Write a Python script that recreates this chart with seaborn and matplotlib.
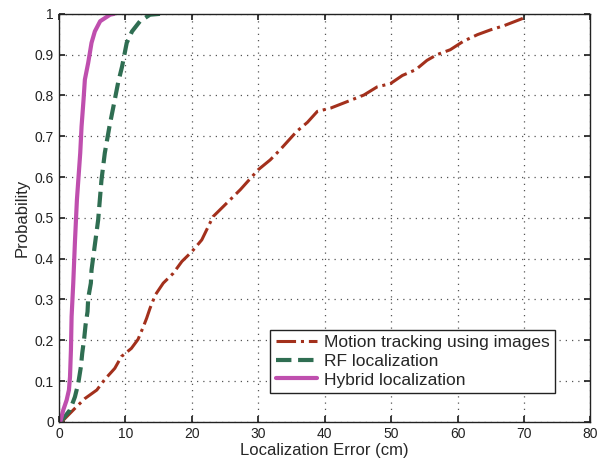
import pandas as pd
import seaborn as sns
import matplotlib.pyplot as plt

# CDF curves (x = error in cm, y = probability)
motion_x = [0.4, 2.4, 3.9, 5.7, 6.9, 8.4, 9.4, 10.9, 11.9, 12.7, 13.2, 13.7, 14.5,
            15.7, 17.2, 18.5, 20.0, 21.5, 23.2, 27.3, 30.0, 31.8, 33.3, 35.8, 37.4,
            38.9, 40.9, 43.1, 45.9, 47.9, 49.9, 51.7, 53.7, 55.4, 56.9, 58.9, 60.9,
            63.0, 65.0, 67.0, 70.0]
motion_y = [0.0, 0.033, 0.057, 0.078, 0.104, 0.131, 0.16, 0.18, 0.202, 0.233, 0.254,
            0.278, 0.311, 0.34, 0.364, 0.393, 0.417, 0.446, 0.503, 0.569, 0.618,
            0.642, 0.667, 0.712, 0.734, 0.761, 0.769, 0.783, 0.801, 0.821, 0.829,
            0.849, 0.863, 0.886, 0.900, 0.912, 0.933, 0.949, 0.961, 0.971, 0.99]

rf_x = [0.2, 0.65, 1.66, 2.4, 2.9, 3.3, 3.5, 3.8, 4.0, 4.3, 4.4, 4.8, 4.9, 5.2, 5.9,
        6.4, 6.9, 7.6, 8.2, 8.9, 9.5, 10.2, 11.0, 12.2, 13.7, 15.2]
rf_y = [0.0, 0.008, 0.029, 0.061, 0.094, 0.135, 0.168, 0.205, 0.237, 0.27, 0.303,
        0.34, 0.372, 0.409, 0.495, 0.593, 0.659, 0.724, 0.773, 0.831, 0.871, 0.929,
        0.957, 0.982, 0.998, 1.0]

hybrid_x = [0.2, 0.65, 1.15, 1.5, 1.66, 1.8, 1.9, 2.15, 2.4, 2.7, 3.2, 3.4, 3.7,
            3.9, 4.4, 4.9, 5.4, 6.2, 7.7, 8.3]
hybrid_y = [0.0, 0.029, 0.053, 0.078, 0.11, 0.176, 0.258, 0.34, 0.44, 0.544, 0.659,
            0.724, 0.79, 0.839, 0.88, 0.929, 0.957, 0.982, 0.998, 1.0]

labels = ["Motion tracking using images", "RF localization", "Hybrid localization"]

sns.set_theme(style="ticks")
plt.rcParams['font.family'] = ['Liberation Sans', 'DejaVu Sans']

fig = plt.figure(figsize=(6.08, 4.62), dpi=100)
ax = fig.add_axes([0.097, 0.087, 0.874, 0.883])

sns.lineplot(x=motion_x, y=motion_y, ax=ax, color="#A3301C", linestyle="-.",
             linewidth=2.2, sort=False, estimator=None, label=labels[0])
sns.lineplot(x=rf_x, y=rf_y, ax=ax, color="#2F6E52", linestyle="--",
             linewidth=3, sort=False, estimator=None, label=labels[1])
sns.lineplot(x=hybrid_x, y=hybrid_y, ax=ax, color="#BF4FAE", linestyle="-",
             linewidth=3, sort=False, estimator=None, label=labels[2])

ax.set_xlim(0, 80)
ax.set_ylim(0, 1)
ax.set_xticks(range(0, 81, 10))
ax.set_yticks([i / 10 for i in range(11)])
ax.set_yticklabels(["0", "0.1", "0.2", "0.3", "0.4", "0.5", "0.6", "0.7", "0.8", "0.9", "1"])
ax.grid(True, linestyle=(0, (1, 4)), color="#555555", linewidth=0.9)
ax.tick_params(direction="in", top=True, right=True, labelsize=10, length=4,
               colors="#222222")
for s in ax.spines.values():
    s.set_linewidth(1.0)
    s.set_color("#222222")

ax.set_xlabel("Localization Error (cm)", fontsize=12, labelpad=2)
ax.set_ylabel("Probability", fontsize=12, labelpad=4)

leg = ax.legend(loc="lower right", bbox_to_anchor=(0.95, 0.05), fontsize=12.5,
                fancybox=False, framealpha=1, edgecolor="#222222",
                handlelength=2.4, borderpad=0.3, labelspacing=0.2,
                handletextpad=0.4)
leg.get_frame().set_linewidth(1.0)

fig.savefig("out.png", dpi=100)
